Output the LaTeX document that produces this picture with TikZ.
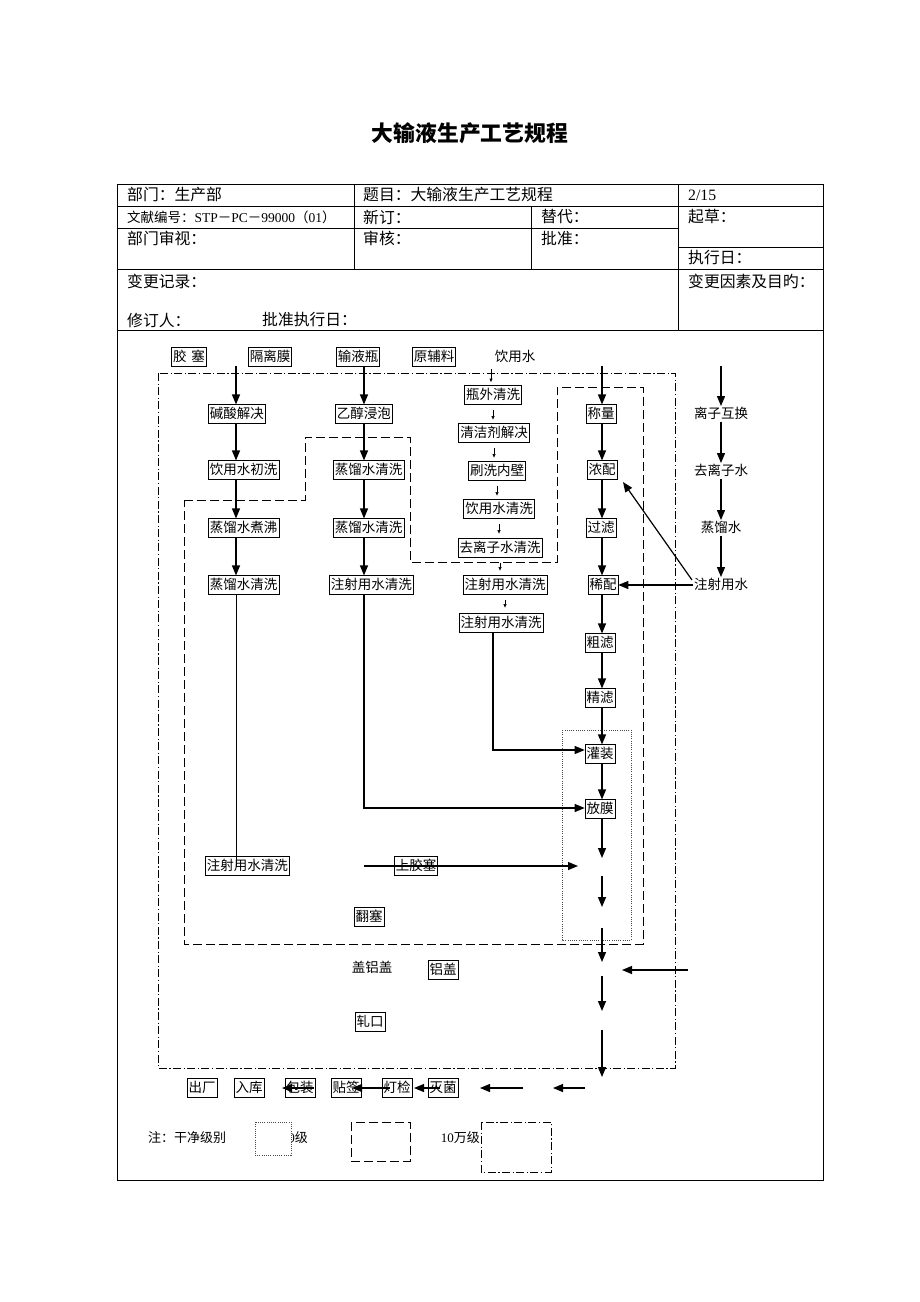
\documentclass[tikz,border=0pt]{standalone}
\usepackage{fontspec}
\setmainfont{Noto Sans CJK SC}
\newfontfamily\lat{Liberation Serif}
\usetikzlibrary{arrows.meta}
\begin{document}
\begin{tikzpicture}[x=1pt,y=-1pt,
 box/.style={draw, line width=0.65pt, inner xsep=1.5pt, inner ysep=2.5pt, text height=11.5pt, text depth=2pt, font=\fontsize{13.5pt}{15pt}\selectfont},
 plain/.style={inner sep=1pt, text height=11.5pt, text depth=2pt, font=\fontsize{13.5pt}{15pt}\selectfont},
 hd/.style={anchor=west, inner sep=0pt, font=\fontsize{15.8pt}{17pt}\selectfont},
 arr/.style={-{Triangle[length=10pt,width=8pt]}, line width=1.2pt},
 sarr/.style={-{Triangle[length=3.5pt,width=3pt]}, line width=0.5pt},
 ln/.style={line width=1pt},
 dashdot/.style={line width=0.9pt, dash pattern=on 8pt off 2.5pt on 1.2pt off 2.5pt},
 dashbox/.style={line width=1pt, dash pattern=on 9pt off 4pt},
 dotbox/.style={line width=0.5pt, dash pattern=on 1pt off 1.2pt, draw=black!70},
 tbl/.style={line width=0.7pt}
]
\useasboundingbox (0,0) rectangle (920,1302);
\fill[white] (0,0) rectangle (920,1302);

% title
\node[font=\fontsize{21.8pt}{24pt}\selectfont\bfseries] (title) at (470,133) {大输液生产工艺规程};

% header table
\draw[tbl] (117,184) rectangle (823,1180);
\draw[tbl] (117,206) -- (823,206);
\draw[tbl] (117,228) -- (678,228);
\draw[tbl] (678,247) -- (823,247);
\draw[tbl] (117,269) -- (823,269);
\draw[tbl] (117,330) -- (823,330);
\draw[tbl] (354,184) -- (354,269);
\draw[tbl] (531,206) -- (531,269);
\draw[tbl] (678,184) -- (678,330);

\node[hd] (h1) at (127,195) {部门：生产部};
\node[hd] (h2) at (363,195) {题目：大输液生产工艺规程};
\node[hd] (h3) at (688,195) {\lat 2/15};
\node[hd, font=\fontsize{13.5pt}{15pt}\selectfont] (h4) at (127,217) {文献编号：{\lat STP}－{\lat PC}－{\lat 99000}（{\lat 01}）};
\node[hd] (h5) at (363,217) {新订：};
\node[hd] (h6) at (541,217) {替代：};
\node[hd] (h7) at (688,217) {起草：};
\node[hd] (h8) at (127,238) {部门审视：};
\node[hd] (h9) at (363,238) {审核：};
\node[hd] (h10) at (541,238) {批准：};
\node[hd] (h11) at (688,258) {执行日：};
\node[hd] (h12) at (127,281) {变更记录：};
\node[hd] (h13) at (688,281) {变更因素及目旳：};
\node[hd] (h14) at (127,320) {修订人：};
\node[hd] (h15) at (262,320) {批准执行日：};

% zone frames
\draw[dashdot] (158,373) rectangle (675,1068);
\draw[dashbox] (184,500) -- (305,500) -- (305,437) -- (410,437) -- (410,562) -- (557,562) -- (557,387) -- (643,387) -- (643,944) -- (184,944) -- cycle;
\draw[dotbox] (562,730) rectangle (631,940);

% top row
\node[box] (jiaosai) at (189,357) {胶\hspace{5pt}塞};
\node[box] (gelimo) at (270,357) {隔离膜};
\node[box] (shuyeping) at (358,357) {输液瓶};
\node[box] (yuanfu) at (434,357) {原辅料};
\node[plain] (yinyong) at (515,357) {饮用水};

% column 1
\node[box, anchor=west] (c1a) at (208,414) {碱酸解决};
\node[box, anchor=west] (c1b) at (208,470) {饮用水初洗};
\node[box, anchor=west] (c1c) at (208,528) {蒸馏水煮沸};
\node[box, anchor=west] (c1d) at (208,585) {蒸馏水清洗};
\node[box, anchor=west] (c1e) at (205,866) {注射用水清洗};

% column 2
\node[box, anchor=west] (c2a) at (335,414) {乙醇浸泡};
\node[box, anchor=west] (c2b) at (333,470) {蒸馏水清洗};
\node[box, anchor=west] (c2c) at (333,528) {蒸馏水清洗};
\node[box, anchor=west] (c2d) at (329,585) {注射用水清洗};

% column 3
\node[box] (c3a) at (493,395) {瓶外清洗};
\node[box] (c3b) at (494,433) {清洁剂解决};
\node[box] (c3c) at (497,471) {刷洗内壁};
\node[box] (c3d) at (499,509) {饮用水清洗};
\node[box] (c3e) at (500,548) {去离子水清洗};
\node[box] (c3f) at (505,585) {注射用水清洗};
\node[box] (c3g) at (501,623) {注射用水清洗};

% column 4
\node[box] (cl) at (601,414) {称量};
\node[box] (np) at (602,470) {浓配};
\node[box] (gl) at (601,528) {过滤};
\node[box] (xp) at (603,585) {稀配};
\node[box] (cul) at (600,643) {粗滤};
\node[box] (jl) at (600,698) {精滤};
\node[box] (gz) at (600,754) {灌装};
\node[box] (fm) at (600,809) {放膜};

% right column
\node[plain] (lzhh) at (721,414) {离子互换};
\node[plain] (qlzs) at (721,471) {去离子水};
\node[plain] (zls) at (721,528) {蒸馏水};
\node[plain] (zsys) at (721,585) {注射用水};

% middle items
\node[box] (sjs) at (416,866) {上胶塞};
\node[box] (fs) at (369,917) {翻塞};
\node[plain] (glg) at (372,968) {盖铝盖};
\node[box] (lg) at (443,970) {铝盖};
\node[box] (zk) at (370,1022) {轧口};

% bottom row
\node[box] (cc) at (202,1088) {出厂};
\node[box] (rk) at (249,1088) {入库};
\node[box] (bz) at (300,1088) {包装};
\node[box] (tq) at (346,1088) {贴签};
\node[box] (dj) at (397,1088) {灯检};
\node[box] (mj) at (443,1088) {灭菌};

% coordinates
\coordinate (s1) at (236,366);
\coordinate (s2) at (364,366);
\coordinate (s3) at (491,369);
\coordinate (s4) at (602,366);
\coordinate (s5) at (721,366);
\coordinate (e1) at (236,866);
\coordinate (k2) at (364,808);
\coordinate (k3) at (493,750);
\coordinate (g1) at (364,866);
\coordinate (g2) at (578,866);
\coordinate (d0) at (602,858);
\coordinate (d1s) at (602,876);
\coordinate (d1e) at (602,907);
\coordinate (d2s) at (602,928);
\coordinate (d2e) at (602,962);
\coordinate (d3s) at (602,976);
\coordinate (d3e) at (602,1011);
\coordinate (d4s) at (602,1030);
\coordinate (d4e) at (602,1077);
\coordinate (r1s) at (688,970);
\coordinate (r1e) at (622,970);
\coordinate (dg) at (623,482);
\coordinate (dgs) at (692,580);
\coordinate (b1s) at (585,1088);
\coordinate (b1e) at (553,1088);
\coordinate (b2s) at (523,1088);
\coordinate (b2e) at (480,1088);
\coordinate (b3s) at (440,1088);
\coordinate (b3e) at (414,1088);
\coordinate (b4s) at (390,1088);
\coordinate (b4e) at (352,1088);
\coordinate (b5s) at (314,1088);
\coordinate (b5e) at (282,1088);

% column 1 arrows
\draw[arr] (s1) -- (s1 |- c1a.north);
\draw[arr] (c1a.south -| s1) -- (c1b.north -| s1);
\draw[arr] (c1b.south -| s1) -- (c1c.north -| s1);
\draw[arr] (c1c.south -| s1) -- (c1d.north -| s1);
\draw[ln] (c1d.south -| s1) -- (e1);

% column 2 arrows
\draw[arr] (s2) -- (s2 |- c2a.north);
\draw[arr] (c2a.south -| s2) -- (c2b.north -| s2);
\draw[arr] (c2b.south -| s2) -- (c2c.north -| s2);
\draw[arr] (c2c.south -| s2) -- (c2d.north -| s2);
\draw[arr] (c2d.south -| s2) -- (k2) -- (k2 -| fm.west);

% column 3 arrows
\draw[sarr] (s3) -- ++(0,13);
\draw[sarr] ([yshift=-5pt]c3a.south) -- ++(0,10);
\draw[sarr] ([yshift=-5pt]c3b.south) -- ++(0,10);
\draw[sarr] ([yshift=-5pt]c3c.south) -- ++(0,10);
\draw[sarr] ([yshift=-5pt]c3d.south) -- ++(0,10);
\draw[sarr] ([yshift=-5pt]c3e.south) -- ++(0,8);
\draw[sarr] ([yshift=-5pt]c3f.south) -- ++(0,8);
\draw[arr] (c3g.south -| k3) -- (k3) -- (k3 -| gz.west);

% column 4 arrows
\draw[arr] (s4) -- (cl.north -| s4);
\draw[arr] (cl.south -| s4) -- (np.north -| s4);
\draw[arr] (np.south -| s4) -- (gl.north -| s4);
\draw[arr] (gl.south -| s4) -- (xp.north -| s4);
\draw[arr] (xp.south -| s4) -- (cul.north -| s4);
\draw[arr] (cul.south -| s4) -- (jl.north -| s4);
\draw[arr] (jl.south -| s4) -- (gz.north -| s4);
\draw[arr] (gz.south -| s4) -- (fm.north -| s4);
\draw[arr] (fm.south -| s4) -- (d0);
\draw[arr] (d1s) -- (d1e);
\draw[arr] (d2s) -- (d2e);
\draw[arr] (d3s) -- (d3e);
\draw[arr] (d4s) -- (d4e);
\draw[arr] (r1s) -- (r1e);

% right column arrows
\draw[arr] (s5) -- (lzhh.north);
\draw[arr] (lzhh.south) -- (qlzs.north);
\draw[arr] (qlzs.south) -- (zls.north);
\draw[arr] (zls.south) -- (zsys.north);
\draw[arr] (zsys.west) -- (xp.east);
\draw[arr] (dgs) -- (dg);

% 上胶塞 line
\draw[arr] (g1) -- (g2);

% bottom row arrows
\draw[arr] (b1s) -- (b1e);
\draw[arr] (b2s) -- (b2e);
\draw[arr] (b3s) -- (b3e);
\draw[arr] (b4s) -- (b4e);
\draw[arr] (b5s) -- (b5e);

% legend
\node[anchor=west, inner sep=0pt, font=\fontsize{13pt}{15pt}\selectfont] (lg1) at (148,1138) {注：干净级别};
\node[anchor=east, inner sep=0pt, font=\fontsize{13pt}{15pt}\selectfont] (lg2) at (308,1138) {{\lat 100}级};
\fill[white] (255,1122) rectangle (291,1155);
\draw[dotbox] (255,1122) rectangle (291,1155);
\draw[dashbox] (351,1122) rectangle (410,1161);
\node[anchor=east, inner sep=0pt, font=\fontsize{13pt}{15pt}\selectfont] (lg3) at (480,1138) {{\lat 10}万级};
\draw[dashdot] (481,1122) rectangle (551,1172);
\end{tikzpicture}
\end{document}
